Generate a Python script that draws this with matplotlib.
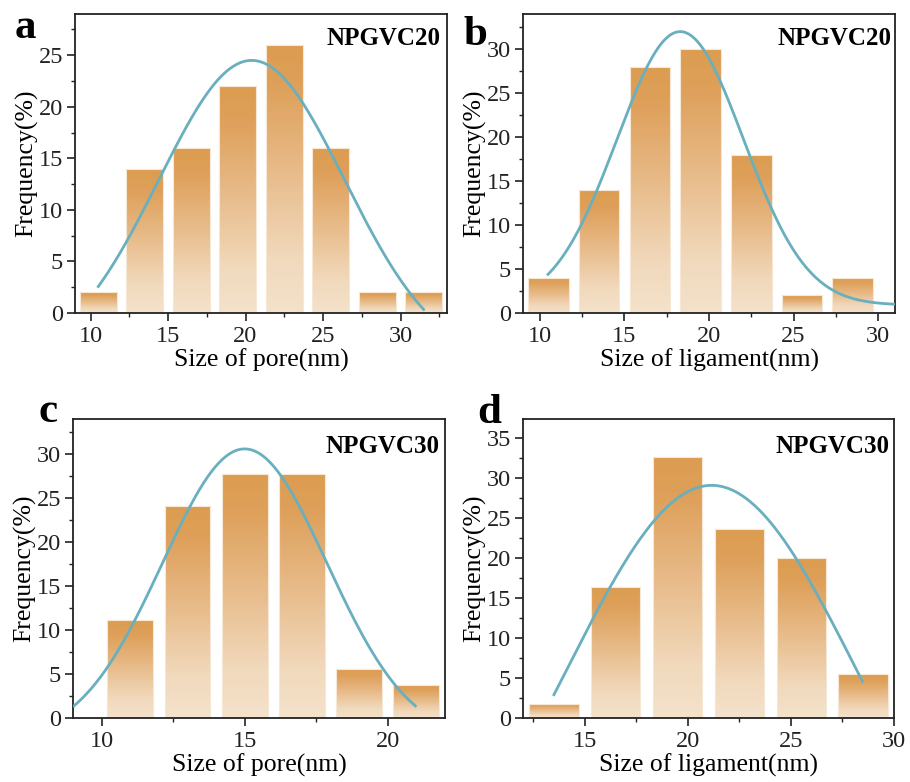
import numpy as np
import matplotlib
matplotlib.use('Agg')
import matplotlib.pyplot as plt
from matplotlib.colors import LinearSegmentedColormap
from matplotlib.ticker import MultipleLocator

plt.rcParams['font.family'] = ['Liberation Serif', 'DejaVu Serif']

# ---------------- data ----------------
a_centers = [10.5, 13.5, 16.5, 19.5, 22.5, 25.5, 28.5, 31.5]
a_freq = [2, 14, 16, 22, 26, 16, 2, 2]
b_centers = [10.5, 13.5, 16.5, 19.5, 22.5, 25.5, 28.5]
b_freq = [4, 14, 28, 30, 18, 2, 4]
c_centers = [11, 13, 15, 17, 19, 21]
c_freq = [11.1, 24.1, 27.8, 27.8, 5.6, 3.7]
d_centers = [13.5, 16.5, 19.5, 22.5, 25.5, 28.5]
d_freq = [1.8, 16.4, 32.7, 23.6, 20.0, 5.5]

# Gaussian fit parameters: centre, sigma, amplitude, offset, x-start, x-end
a_fit = dict(xc=20.4, sigma=6.0, amp=29.5, y0=-5.0, x0=10.45, x1=31.55)
b_fit = dict(xc=18.3, sigma=3.74, amp=31.1, y0=0.9, x0=10.42, x1=31.0)
c_fit = dict(xc=15.0, sigma=2.88, amp=33.1, y0=-2.5, x0=9.0, x1=21.0)
d_fit = dict(xc=21.15, sigma=7.07, amp=59.1, y0=-30.0, x0=13.47, x1=28.5)

panel_letters = ['a', 'b', 'c', 'd']
sample_names = ['NPGVC20', 'NPGVC20', 'NPGVC30', 'NPGVC30']
x_labels = ['Size of pore(nm)', 'Size of ligament(nm)', 'Size of pore(nm)', 'Size of ligament(nm)']
y_label = 'Frequency(%)'

# ---------------- style ----------------
W, H = 910, 782
fig = plt.figure(figsize=(W / 100, H / 100), dpi=100)

curve_col = '#69AFBE'
cmap = LinearSegmentedColormap.from_list(
    'bargrad',
    [(0.0, '#F4E2CB'), (0.2, '#F1D9BC'), (0.55, '#E7B986'), (0.85, '#DEA05A'), (1.0, '#DC9C50')])
grad = np.linspace(0, 1, 256).reshape(-1, 1)


def axes_px(l, t, r, b):
    return fig.add_axes([l / W, 1 - b / H, (r - l) / W, (b - t) / H])


panels = [
    dict(box=(75, 14, 447, 313), centers=a_centers, freq=a_freq, width=2.4, fit=a_fit,
         xlim=(9, 33), ylim=(0, 29), xmaj=5, ymaj=5, name_pos=(0.983, 0.896),
         letter_pos=(15, 38)),
    dict(box=(523, 14, 895, 313), centers=b_centers, freq=b_freq, width=2.4, fit=b_fit,
         xlim=(9, 31), ylim=(0, 34), xmaj=5, ymaj=5, name_pos=(0.991, 0.896),
         letter_pos=(464, 45)),
    dict(box=(73, 419, 445, 718), centers=c_centers, freq=c_freq, width=1.6, fit=c_fit,
         xlim=(9, 22), ylim=(0, 34), xmaj=5, ymaj=5, name_pos=(0.985, 0.886),
         letter_pos=(39, 422)),
    dict(box=(523, 419, 894, 718), centers=d_centers, freq=d_freq, width=2.4, fit=d_fit,
         xlim=(12, 30), ylim=(0, 37.4), xmaj=5, ymaj=5, name_pos=(0.988, 0.886),
         letter_pos=(477, 423)),
]

for i, p in enumerate(panels):
    ax = axes_px(*p['box'])
    bars = ax.bar(p['centers'], p['freq'], width=p['width'], facecolor='none',
                  edgecolor='#F7E8D6', linewidth=0.8, zorder=2)
    for patch in bars.patches:
        x0, w, h = patch.get_x(), patch.get_width(), patch.get_height()
        im = ax.imshow(grad, extent=[x0, x0 + w, 0, h], origin='lower', cmap=cmap,
                       aspect='auto', zorder=1, interpolation='bilinear')
        im.set_clip_path(patch)
    f = p['fit']
    xs = np.linspace(f['x0'], f['x1'], 300)
    ys = f['y0'] + f['amp'] * np.exp(-(xs - f['xc']) ** 2 / (2 * f['sigma'] ** 2))
    ax.plot(xs, ys, color=curve_col, lw=2.0, zorder=3, solid_capstyle='butt')

    ax.set_xlim(*p['xlim'])
    ax.set_ylim(*p['ylim'])
    ax.xaxis.set_major_locator(MultipleLocator(p['xmaj']))
    ax.xaxis.set_minor_locator(MultipleLocator(p['xmaj'] / 2))
    ax.yaxis.set_major_locator(MultipleLocator(p['ymaj']))
    ax.yaxis.set_minor_locator(MultipleLocator(p['ymaj'] / 2))
    ax.tick_params(which='major', direction='out', length=5.5, width=1.2,
                   labelsize=17.5, pad=3, colors='#222222')
    ax.tick_params(which='minor', direction='out', length=3, width=1.0, colors='#222222')
    ax.tick_params(axis='x', which='major', pad=4)
    for sp in ax.spines.values():
        sp.set_linewidth(1.3)
        sp.set_color('#222222')
    ax.set_xlabel(x_labels[i], fontsize=18.5, labelpad=1)
    ax.set_ylabel(y_label, fontsize=18.5, labelpad=0)
    ax.text(p['name_pos'][0], p['name_pos'][1], sample_names[i], transform=ax.transAxes,
            ha='right', va='baseline', fontsize=18, fontweight='bold')
    lx, ly = p['letter_pos']
    fig.text(lx / W, 1 - ly / H, panel_letters[i], ha='left', va='baseline',
             fontsize=31, fontweight='bold')

fig.savefig('out.png', dpi=100)
